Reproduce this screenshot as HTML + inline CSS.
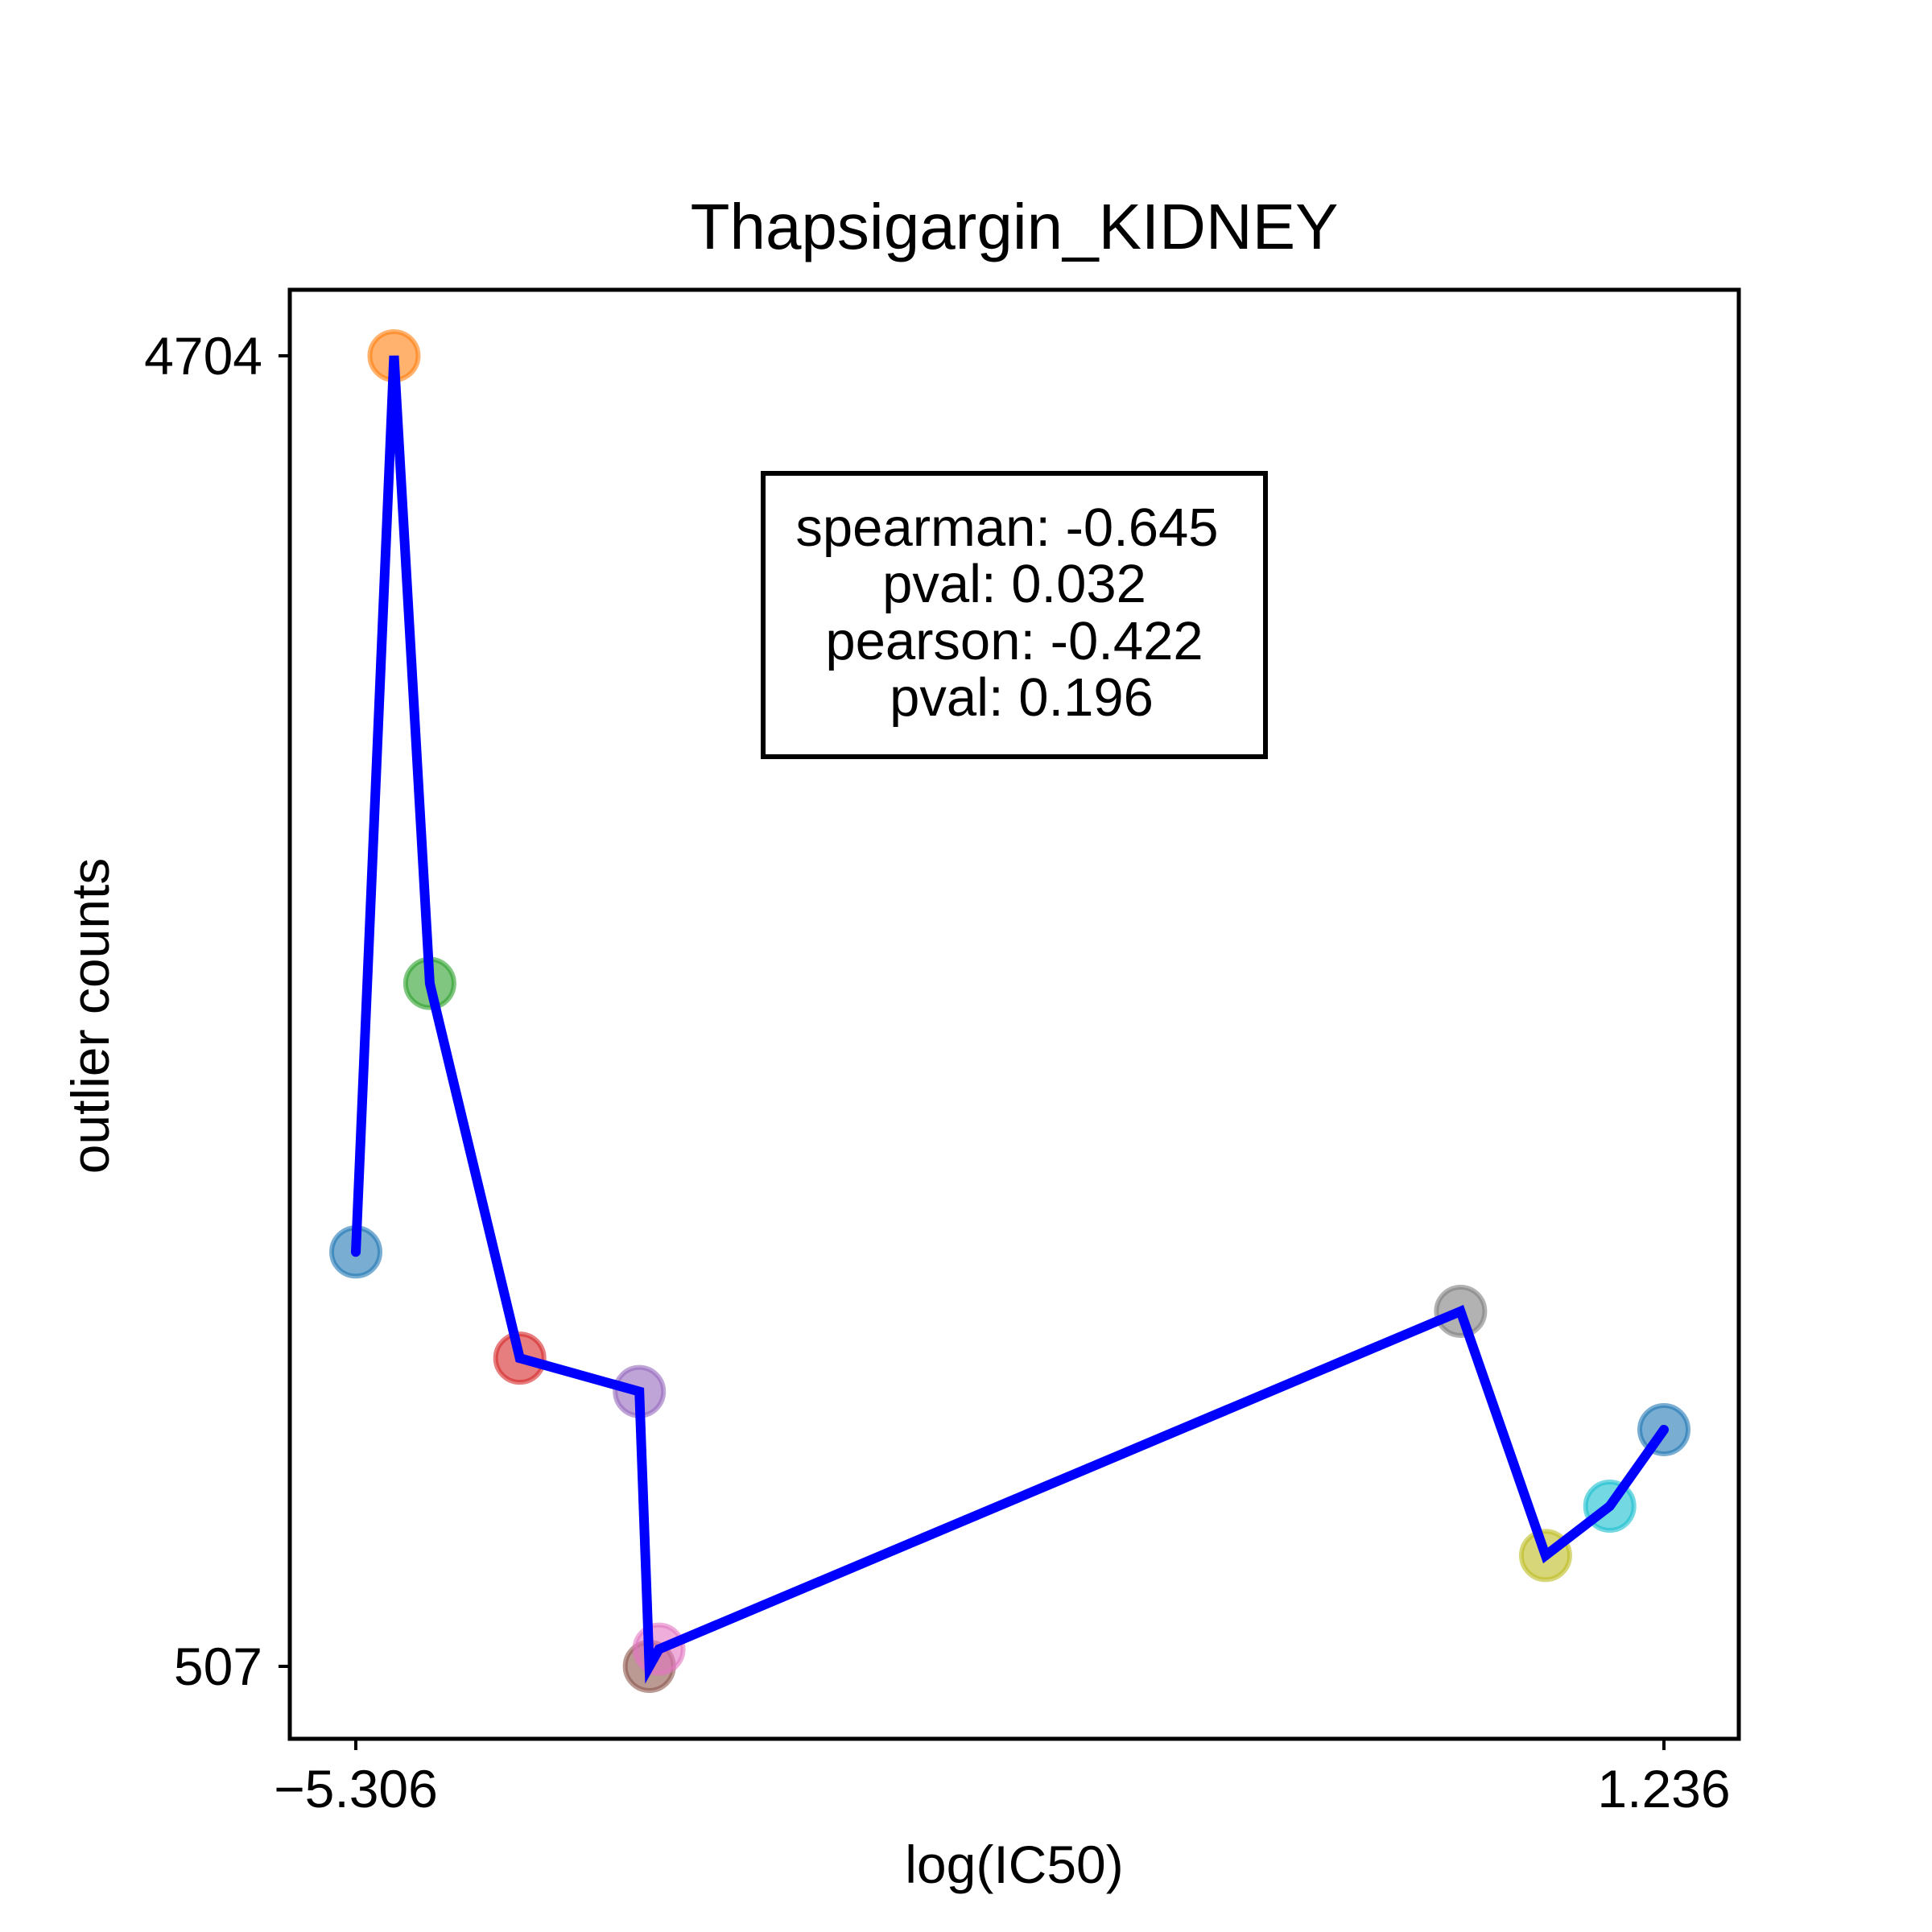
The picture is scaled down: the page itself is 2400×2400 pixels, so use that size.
<!DOCTYPE html>
<html><head><meta charset="utf-8"><style>body{margin:0;background:#fff}svg{display:block}text{font-family:"Liberation Sans",sans-serif;fill:#000}</style></head>
<body>
<svg id="chart" width="2400" height="2400" viewBox="0 0 2400 2400">
<rect width="2400" height="2400" fill="#fff"/>
<text x="1260" y="309" font-size="80" text-anchor="middle">Thapsigargin_KIDNEY</text>
<g id="plot"></g>
<rect x="360" y="360" width="1800" height="1800" fill="none" stroke="#000" stroke-width="5"/>
<g>
<rect x="948" y="588" width="624" height="352" fill="#fff" stroke="#000" stroke-width="6"/>
<text x="1251" y="678" font-size="67" text-anchor="middle">spearman: -0.645</text>
<text x="1260" y="748" font-size="67" text-anchor="middle">pval: 0.032</text>
<text x="1260" y="819" font-size="67" text-anchor="middle">pearson: -0.422</text>
<text x="1269" y="889" font-size="67" text-anchor="middle">pval: 0.196</text>
</g>
<text x="1260" y="2339" font-size="66" text-anchor="middle">log(IC50)</text>
<text x="0" y="0" font-size="66" text-anchor="middle" transform="translate(135,1262) rotate(-90)">outlier counts</text>
</svg>
<script>
const xs = [-5.306, -5.115, -4.936, -4.486, -3.888, -3.838, -3.79, 0.219, 0.644, 0.965, 1.236];
const ys = [1834, 4704, 2694, 1494, 1387, 507, 562, 1644, 862, 1020, 1265];
const colors = ["#1f77b4","#ff7f0e","#2ca02c","#d62728","#9467bd","#8c564b","#e377c2","#7f7f7f","#bcbd22","#17becf","#1f77b4"];
const xTicks = [-5.306, 1.236];
const yTicks = [4704, 507];
const xTickLabels = ["\u22125.306", "1.236"];
const yTickLabels = ["4704", "507"];
const NS="http://www.w3.org/2000/svg";
const X=v=>442+(v-(-5.306))/(1.236-(-5.306))*(2067-442);
const Y=v=>2070-(v-507)/(4704-507)*(2070-442);
const g=document.getElementById('plot');
function mk(t,a){const e=document.createElementNS(NS,t);for(const k in a)e.setAttribute(k,a[k]);g.appendChild(e);return e;}
xTicks.forEach((v,i)=>{
 const t=mk('line',{x1:X(v),x2:X(v),y1:2160,y2:2174,stroke:'#000','stroke-width':4});
 
 
 const l=mk('text',{x:X(v),y:2245,'font-size':66,'text-anchor':'middle'});l.textContent=xTickLabels[i];
 
 
});
yTicks.forEach((v,i)=>{
 const t=mk('line',{x1:346,x2:360,y1:Y(v),y2:Y(v),stroke:'#000','stroke-width':4});
 
 
 const l=mk('text',{x:326,y:Y(v)+23,'font-size':66,'text-anchor':'end'});l.textContent=yTickLabels[i];
 
 
});
xs.forEach((v,i)=>{
 const c=mk('circle',{cx:X(v),cy:Y(ys[i]),r:30,fill:colors[i],'fill-opacity':0.6,stroke:colors[i],'stroke-opacity':0.6,'stroke-width':6});
 
 
});
const p=mk('polyline',{points:xs.map((v,i)=>X(v)+','+Y(ys[i])).join(' '),fill:'none',stroke:'#0000ff','stroke-width':12,'stroke-linejoin':'miter','stroke-linecap':'round'});


</script>
</body></html>
